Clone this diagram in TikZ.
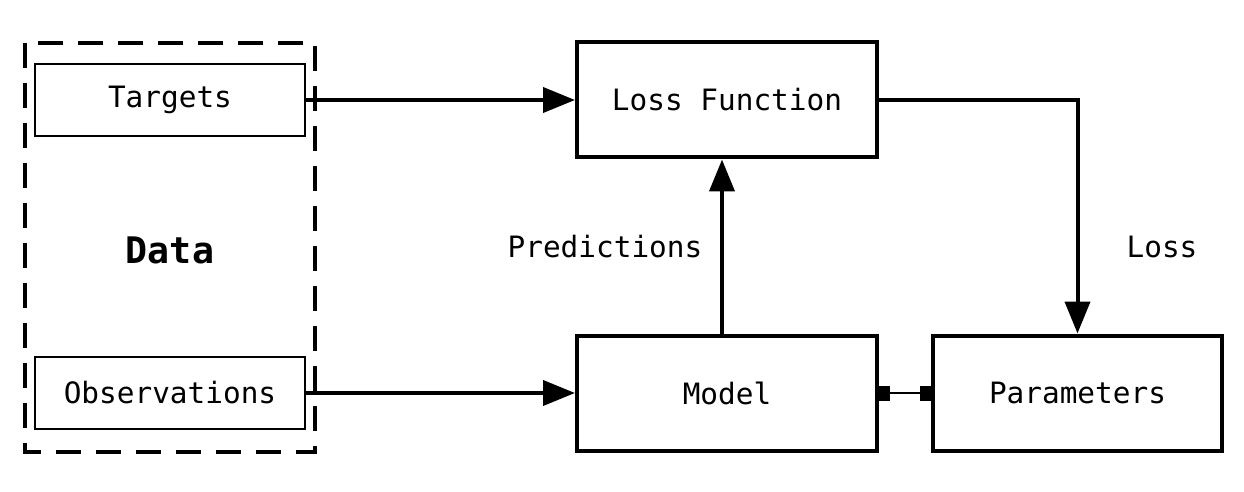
\documentclass[tikz,border=0pt]{standalone}
\usepackage{fontspec}
\setmonofont{DejaVu Sans Mono}
\usetikzlibrary{positioning,arrows.meta}

\begin{document}
\begin{tikzpicture}[x=0.5pt,y=-0.5pt,font=\ttfamily\fontsize{14.7}{17}\selectfont,
  block/.style={draw,line width=2pt,minimum width=150pt,minimum height=57.5pt},
  item/.style={draw,line width=1pt,minimum width=135pt,minimum height=36pt},
  line/.style={-{Triangle[length=16pt,width=12.5pt]},line width=2pt},
  link/.style={{Square[length=5.5pt,width=7.5pt]}-{Square[length=5.5pt,width=7.5pt]},line width=1pt}]
\useasboundingbox (0,0) rectangle (1244,492);
\draw[line width=2pt,dash pattern=on 12.5pt off 7.5pt] (25,43) rectangle (315,452);
\node[item] (t) at (170,100) {Targets};
\node[item] (o) at (170,393) {Observations};
\node[font=\ttfamily\bfseries\fontsize{18.3}{22}\selectfont] (data) at (170,250) {Data};
\node[block] (loss) at (727,100) {Loss Function};
\node[block] (model) at (727,393) {Model};
\node[block,minimum width=144.5pt] (p) at (1077.5,393) {Parameters};
\node (pred) at (605,247) {Predictions};
\node (l) at (1162,247) {Loss};
\draw[line] (t)--(loss);\draw[line] (o)--(model);\draw[line] ([xshift=-2.5pt]model.north)--([xshift=-2.5pt]loss.south);
\draw[line] (loss.east)-|(p.north);\draw[link] (model)--(p);
\end{tikzpicture}
\end{document}
